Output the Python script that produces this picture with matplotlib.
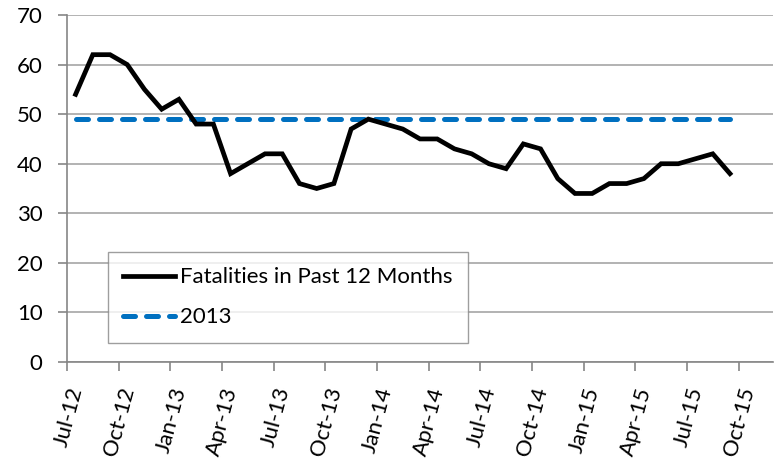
import matplotlib
matplotlib.use("Agg")
import matplotlib.pyplot as plt

plt.rcParams['font.family'] = ['Lato', 'DejaVu Sans']

# Mesi (asse delle date), da Jul-12 a Oct-15 ogni 3 mesi
tick_labels = ["Jul-12", "Oct-12", "Jan-13", "Apr-13", "Jul-13", "Oct-13", "Jan-14",
               "Apr-14", "Jul-14", "Oct-14", "Jan-15", "Apr-15", "Jul-15", "Oct-15"]

# Decessi negli ultimi 12 mesi, mensili da Jul-12 a Sep-15
fatalities = [54, 62, 62, 60, 55, 51, 53, 48, 48, 38, 40, 42, 42, 36, 35, 36, 47, 49, 48,
              47, 45, 45, 43, 42, 40, 39, 44, 43, 37, 34, 34, 36, 36, 37, 40, 40, 41, 42, 38]
baseline_2013 = [49] * len(fatalities)

months = [i + 0.5 for i in range(len(fatalities))]   # punto a metà mese
ticks = list(range(0, 3 * len(tick_labels), 3))

fig = plt.figure(figsize=(7.78, 4.58), dpi=100)
ax = fig.add_axes([0.0861, 0.2096, 0.9075, 0.7576])

ax.plot(months, fatalities, color="black", lw=3.4, solid_joinstyle="miter",
        label="Fatalities in Past 12 Months", zorder=3)
ax.plot(months, baseline_2013, color="#0070C0", lw=3.6, dashes=(2.4, 2.2),
        dash_capstyle="round", label="2013", zorder=2)

ax.set_xlim(0, 41)
ax.set_ylim(0, 70)
ax.set_yticks(range(0, 71, 10))
ax.set_xticks(ticks)
ax.set_xticklabels(tick_labels, rotation=75, ha="right", va="top",
                   rotation_mode="anchor", fontsize=16)

ax.grid(axis="y", color="#A6A6A6", lw=1.2)
ax.set_axisbelow(True)
for s in ["top", "right"]:
    ax.spines[s].set_visible(False)
for s in ["left", "bottom"]:
    ax.spines[s].set_color("#868686")
    ax.spines[s].set_linewidth(1.2)
ax.tick_params(axis="both", colors="#868686", labelcolor="black",
               width=1.2, length=6.5)
ax.tick_params(axis="y", labelsize=16, pad=11)
ax.tick_params(axis="x", pad=10)

leg = ax.legend(loc="lower left", bbox_to_anchor=(0.058, 0.055), fontsize=16,
                frameon=True, fancybox=False, edgecolor="#868686",
                handlelength=2.3, handletextpad=0.25, borderpad=0.7,
                labelspacing=0.9, borderaxespad=0)
leg.get_frame().set_linewidth(1.0)

fig.savefig("out.png", dpi=100)
